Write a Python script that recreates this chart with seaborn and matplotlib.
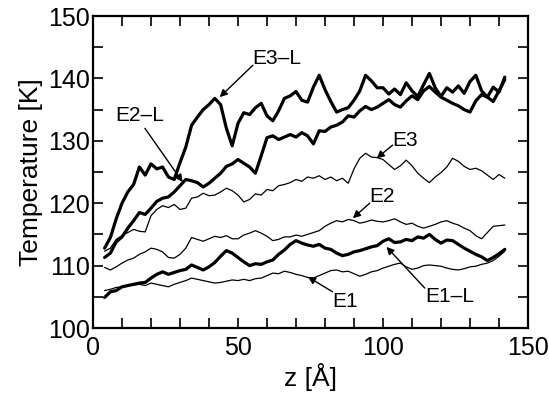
import matplotlib
matplotlib.use("Agg")
import matplotlib.pyplot as plt
from matplotlib.ticker import MultipleLocator
import seaborn as sns
import pandas as pd

z = [4, 6, 8, 10, 12, 14, 16, 18, 20, 22, 24, 26, 28, 30, 32, 34, 36, 38, 40, 42,
     44, 46, 48, 50, 52, 54, 56, 58, 60, 62, 64, 66, 68, 70, 72, 74, 76, 78, 80, 82,
     84, 86, 88, 90, 92, 94, 96, 98, 100, 102, 104, 106, 108, 110, 112, 114, 116, 118, 120, 122,
     124, 126, 128, 130, 132, 134, 136, 138, 140, 142]

e3_l = [112.8, 114.5, 117.5, 120.0, 121.8, 123.0, 125.8, 124.5, 126.3, 125.5,
        125.8, 124.2, 123.8, 126.5, 129.0, 132.5, 133.8, 135.0, 135.8, 136.8,
        135.8, 132.0, 129.2, 132.8, 134.5, 134.2, 135.3, 136.0, 134.0, 133.2,
        134.8, 136.8, 137.2, 137.9, 136.5, 136.2, 138.6, 140.5, 138.2, 136.3,
        134.6, 135.0, 135.3, 136.5, 138.0, 140.5, 139.6, 138.5, 138.5, 137.5,
        138.3, 137.4, 139.3, 138.0, 137.1, 139.0, 140.8, 138.5, 137.1, 138.5,
        137.8, 138.8, 137.6, 139.5, 140.5, 138.0, 137.0, 138.6, 137.8, 140.2]

e2_l = [111.3, 112.0, 113.8, 114.6, 116.0, 117.2, 118.5, 118.2, 119.2, 120.3,
        120.8, 121.0, 121.8, 122.8, 123.8, 123.6, 123.3, 122.6, 123.2, 124.0,
        124.8, 125.9, 126.3, 127.0, 126.4, 125.8, 124.8, 127.6, 130.5, 130.8,
        130.2, 130.6, 131.0, 130.6, 131.3, 130.8, 129.5, 131.6, 131.5, 132.2,
        132.5, 133.0, 134.0, 133.8, 134.8, 135.5, 135.0, 135.4, 136.0, 136.6,
        135.8, 135.4, 136.4, 137.2, 136.6, 138.0, 138.7, 137.8, 137.0, 136.5,
        136.0, 135.6, 135.0, 134.6, 136.4, 137.4, 137.0, 136.3, 138.0, 139.8]

e3 = [112.3, 112.8, 114.2, 114.8, 115.3, 115.8, 115.5, 115.4, 118.0, 119.0,
      119.6, 119.3, 119.8, 119.0, 119.2, 120.8, 121.0, 121.6, 121.2, 121.3,
      121.8, 122.4, 122.0, 121.3, 120.2, 120.6, 121.5, 121.3, 122.2, 122.0,
      122.8, 123.0, 123.3, 123.8, 123.5, 124.2, 124.0, 124.4, 123.8, 124.2,
      123.6, 124.0, 123.2, 125.5, 127.2, 128.0, 127.4, 127.3, 127.0, 126.2,
      125.4, 126.0, 126.9, 126.0, 124.8, 124.0, 123.3, 124.2, 124.9, 125.8,
      127.2, 126.7, 125.9, 125.4, 125.6, 125.2, 124.5, 123.8, 124.6, 124.0]

e2 = [109.7, 109.3, 109.8, 110.4, 110.9, 111.2, 111.8, 112.2, 112.8, 112.6,
      112.2, 111.3, 111.2, 111.8, 112.8, 114.5, 114.2, 113.9, 114.3, 114.7,
      114.5, 114.8, 114.3, 114.3, 114.9, 115.2, 115.6, 115.2, 114.7, 114.0,
      114.2, 114.6, 114.6, 114.9, 114.7, 115.0, 115.3, 115.6, 116.3, 116.8,
      117.2, 117.0, 117.4, 117.2, 116.8, 117.0, 117.3, 117.1, 117.0, 117.2,
      117.5, 117.0, 116.6, 116.8, 116.3, 116.0, 116.3, 116.6, 117.0, 117.2,
      116.8, 116.5, 116.0, 115.6, 114.8, 114.3, 115.3, 116.3, 116.4, 116.5]

e1_l = [104.9, 105.8, 106.0, 106.6, 106.8, 107.0, 107.2, 107.3, 108.0, 108.6,
        109.0, 108.6, 108.9, 109.2, 109.4, 110.1, 109.7, 109.3, 109.8, 110.5,
        111.5, 112.4, 112.0, 111.3, 110.6, 110.0, 110.3, 110.2, 110.6, 110.9,
        111.8, 112.5, 113.4, 114.0, 113.6, 113.3, 113.1, 113.4, 112.8, 112.6,
        112.0, 111.6, 111.8, 112.2, 112.4, 112.7, 113.0, 113.2, 113.9, 114.3,
        113.7, 113.8, 114.2, 114.0, 114.6, 114.4, 115.0, 114.2, 113.6, 114.1,
        114.0, 113.4, 112.8, 112.3, 111.8, 111.4, 110.8, 111.3, 111.9, 112.6]

e1 = [106.0, 106.2, 106.5, 106.6, 106.8, 106.9, 107.0, 106.8, 107.2, 107.0,
      106.8, 106.6, 107.0, 107.3, 107.6, 108.0, 107.8, 107.6, 107.4, 107.2,
      107.3, 107.5, 107.7, 107.6, 107.8, 107.6, 107.9, 108.0, 108.4, 108.8,
      108.7, 109.1, 108.9, 108.6, 108.4, 108.1, 108.0, 108.4, 108.8, 109.2,
      109.3, 109.0, 109.1, 108.7, 108.3, 108.6, 109.0, 109.2, 109.6, 109.9,
      110.2, 110.4, 109.8, 109.4, 109.6, 110.0, 110.1, 110.0, 109.9, 109.6,
      109.4, 109.3, 109.5, 109.8, 109.9, 110.2, 110.4, 110.8, 111.5, 112.3]

series_names = ["E3-L", "E2-L", "E3", "E2", "E1-L", "E1"]
series_vals = [e3_l, e2_l, e3, e2, e1_l, e1]
thick = {"E3-L": True, "E2-L": True, "E1-L": True, "E3": False, "E2": False, "E1": False}

# annotation labels: (text, text position, arrow tail, arrow head)
labels = ["E3–L", "E2–L", "E3", "E2", "E1", "E1–L"]
label_pos = [(63.2, 143.2), (16.1, 134.1), (107.5, 130.1), (99.8, 121.0), (86.8, 104.2), (123.0, 105.0)]
arrow_tail = [(55.1, 142.1), (17.9, 132.0), (103.3, 129.3), (95.4, 120.0), (82.6, 105.8), (114.4, 106.4)]
arrow_head = [(43.7, 137.0), (30.9, 123.4), (97.8, 127.2), (89.6, 117.6), (74.1, 108.2), (101.2, 113.0)]

rows = []
for name, vals in zip(series_names, series_vals):
    for zz, t in zip(z, vals):
        rows.append({"z": zz, "T": t, "series": name})
df = pd.DataFrame(rows)

sns.set_style("ticks")
plt.rcParams["font.family"] = ["Liberation Sans", "DejaVu Sans"]
plt.rcParams["text.color"] = "black"
plt.rcParams["axes.labelcolor"] = "black"
plt.rcParams["xtick.color"] = "black"
plt.rcParams["ytick.color"] = "black"
plt.rcParams["xtick.labelcolor"] = "black"
plt.rcParams["ytick.labelcolor"] = "black"

fig = plt.figure(figsize=(5.49, 4.0), dpi=100)
ax = fig.add_axes([93 / 549, 72 / 400, 435 / 549, 312 / 400])

for name in series_names:
    sub = df[df["series"] == name]
    sns.lineplot(data=sub, x="z", y="T", ax=ax, color="black",
                 linewidth=2.3 if thick[name] else 0.9, legend=False)

for txt, pos, tail, head in zip(labels, label_pos, arrow_tail, arrow_head):
    ax.text(pos[0], pos[1], txt, ha="center", va="center", fontsize=15, color="black")
    ax.annotate("", xy=head, xytext=tail,
                arrowprops=dict(arrowstyle="-|>", color="black", lw=1.0,
                                mutation_scale=11, shrinkA=0, shrinkB=0))

ax.set_xlim(0, 150)
ax.set_ylim(100, 150)
ax.xaxis.set_major_locator(MultipleLocator(50))
ax.xaxis.set_minor_locator(MultipleLocator(10))
ax.yaxis.set_major_locator(MultipleLocator(10))
ax.yaxis.set_minor_locator(MultipleLocator(5))
ax.tick_params(which="both", direction="in", top=True, right=True,
               length=7, width=1.2, color="black")
ax.tick_params(axis="x", which="major", labelsize=18, pad=6, labelcolor="black")
ax.tick_params(axis="y", which="major", labelsize=18, pad=2, labelcolor="black")
for s in ax.spines.values():
    s.set_linewidth(1.6)
    s.set_color("black")

ax.set_xlabel("z [Å]", fontsize=19, labelpad=2, color="black")
ax.set_ylabel("Temperature [K]", fontsize=19, labelpad=4, color="black")

fig.savefig("out.png", dpi=100)
